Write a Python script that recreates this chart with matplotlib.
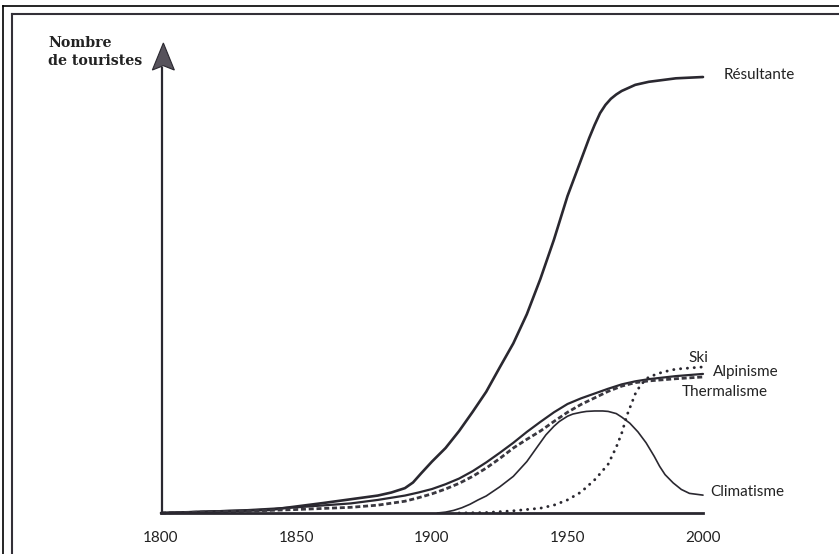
import numpy as np
import matplotlib
matplotlib.use("Agg")
import matplotlib.pyplot as plt
from matplotlib.lines import Line2D
from matplotlib.patches import Polygon

## data (arbitrary units, Résultante plateau = 100)
res_years = [1800, 1840, 1860, 1880, 1885, 1890, 1893, 1896, 1900, 1905, 1910, 1915,
             1920, 1925, 1930, 1935, 1940, 1945, 1950, 1955, 1958, 1960, 1962, 1964,
             1966, 1968, 1970, 1975, 1980, 1990, 2000]
res_vals = [0, 0.7, 2.3, 4.0, 4.7, 5.7, 7.0, 9.1, 11.8, 14.9, 18.8, 23.2,
            27.8, 33.4, 38.9, 45.6, 53.7, 62.7, 72.7, 81.0, 86.0, 89.0, 91.7, 93.6,
            95.0, 96.0, 96.8, 98.2, 98.9, 99.7, 100]

alp_years = [1800, 1830, 1850, 1870, 1880, 1890, 1895, 1900, 1905, 1910, 1915, 1920,
             1925, 1930, 1935, 1940, 1945, 1950, 1955, 1960, 1965, 1970, 1975, 1980,
             1990, 2000]
alp_vals = [0, 0.6, 1.3, 2.2, 3.0, 4.0, 4.7, 5.5, 6.6, 7.9, 9.6, 11.6,
            13.8, 16.1, 18.6, 20.9, 23.1, 25.0, 26.3, 27.4, 28.5, 29.5, 30.2, 30.7,
            31.4, 31.9]

the_years = [1800, 1830, 1850, 1870, 1880, 1890, 1895, 1900, 1905, 1910, 1915, 1920,
             1925, 1930, 1935, 1940, 1945, 1950, 1955, 1960, 1965, 1970, 1975, 1980,
             1990, 2000]
the_vals = [0, 0.4, 0.8, 1.3, 1.8, 2.7, 3.5, 4.4, 5.5, 6.8, 8.4, 10.3,
            12.5, 14.9, 16.9, 18.8, 21.0, 23.1, 24.9, 26.4, 27.9, 29.1, 29.9, 30.3,
            30.8, 31.2]

cli_years = [1902, 1905, 1908, 1911, 1914, 1917, 1920, 1925, 1930, 1935, 1939, 1942,
             1945, 1947, 1950, 1952, 1955, 1957, 1960, 1963, 1965, 1968, 1970, 1973,
             1976, 1979, 1982, 1984, 1986, 1989, 1992, 1995, 2000]
cli_vals = [0, 0.2, 0.6, 1.2, 2.0, 3.0, 3.9, 6.0, 8.4, 11.8, 15.3, 17.9,
            19.9, 21.0, 22.2, 22.7, 23.1, 23.3, 23.4, 23.4, 23.3, 22.8, 22.0, 20.6,
            18.6, 16.1, 13.0, 10.7, 8.8, 6.9, 5.4, 4.5, 4.1]

ski_years = [1910, 1920, 1930, 1940, 1945, 1950, 1955, 1960, 1962, 1965, 1968, 1970,
             1972, 1975, 1977, 1980, 1985, 1990, 2000]
ski_vals = [0, 0.1, 0.5, 1.1, 1.8, 3.0, 4.8, 7.6, 9.0, 11.2, 15.1, 18.3,
            22.5, 27.3, 29.4, 31.2, 32.3, 33.0, 33.5]

xticks = [1800, 1850, 1900, 1950, 2000]

ink = '#2a2830'
W, H = 839, 554

fig = plt.figure(figsize=(W / 100, H / 100), dpi=100)
fig.patch.set_facecolor('white')

# axes placed so that 1800 -> x=161px, 2000 -> x=703px, baseline at y=513px
ax = fig.add_axes([161 / W, 41 / H, 542 / W, 470 / H])
ax.set_xlim(1800, 2000)
ax.set_ylim(0, 107.8)
ax.patch.set_alpha(0)

for s in ['top', 'right']:
    ax.spines[s].set_visible(False)
ax.spines['bottom'].set_linewidth(2.0)
ax.spines['bottom'].set_color(ink)
ax.spines['left'].set_linewidth(1.6)
ax.spines['left'].set_color(ink)
ax.spines['left'].set_bounds(0, 102)
ax.spines['left'].set_position(('data', 1800.5))

ax.set_yticks([])
ax.set_xticks(xticks)
ax.set_xticklabels([str(t) for t in xticks], family='Lato', fontsize=11, color='#222222')
ax.tick_params(axis='x', length=0, pad=13)

# arrow head on the vertical axis (pixel sizes converted to data units)
ppy = 542 / 200
x0 = 1800.5
head = Polygon([[x0 + 1 / ppy, 107.8], [x0 + 12 / ppy, 101.6], [x0 + 1 / ppy, 102.6],
                [x0 - 10 / ppy, 101.6]], closed=True, facecolor='#57535c',
               edgecolor=ink, linewidth=0.8, clip_on=False)
ax.add_patch(head)

ax.plot(res_years, res_vals, color=ink, lw=1.9, solid_capstyle='round',
        solid_joinstyle='round', clip_on=False)
ax.plot(alp_years, alp_vals, color=ink, lw=1.6, solid_capstyle='round',
        solid_joinstyle='round', clip_on=False)
ax.plot(the_years, the_vals, color='#3a3840', lw=2.0, linestyle=(0, (1.8, 1.0)),
        clip_on=False)
ax.plot(cli_years, cli_vals, color=ink, lw=1.2, solid_capstyle='round',
        solid_joinstyle='round', clip_on=False)
ax.plot(ski_years, ski_vals, color=ink, lw=2.1, linestyle=(0, (0.05, 2.3)),
        dash_capstyle='round', clip_on=False)

lab = dict(family='Lato', fontsize=11, color='#222222', va='center', ha='left',
           textcoords='offset points', annotation_clip=False)
ax.annotate('Résultante', xy=(res_years[-1], res_vals[-1]), xytext=(14.5, 1.5), **lab)
ax.annotate('Ski', xy=(ski_years[-1], ski_vals[-1]), xytext=(-10.5, 6.5), **lab)
ax.annotate('Alpinisme', xy=(alp_years[-1], alp_vals[-1]), xytext=(7.5, 1.5), **lab)
ax.annotate('Thermalisme', xy=(the_years[-1], the_vals[-1]), xytext=(-15, -11), **lab)
ax.annotate('Climatisme', xy=(cli_years[-1], cli_vals[-1]), xytext=(5, 2), **lab)

fig.text(48 / W, 1 - 52 / H, 'Nombre\nde touristes', family='DejaVu Serif',
         fontweight='bold', fontsize=10.2, color='#222222', ha='left', va='center',
         linespacing=1.45)

# scanned page frame
fig.add_artist(Line2D([3 / W, 3 / W], [0, 1 - 6 / H], color='black', lw=1.2))
fig.add_artist(Line2D([3 / W, 1], [1 - 6 / H, 1 - 6 / H], color='black', lw=1.2))
fig.add_artist(Line2D([11.5 / W, 11.5 / W], [0, 1 - 13.5 / H], color='#333038', lw=1.5))
fig.add_artist(Line2D([11.5 / W, 1], [1 - 13.5 / H, 1 - 13.5 / H], color='#333038', lw=1.5))

fig.savefig('out.png', dpi=100, facecolor='white')
